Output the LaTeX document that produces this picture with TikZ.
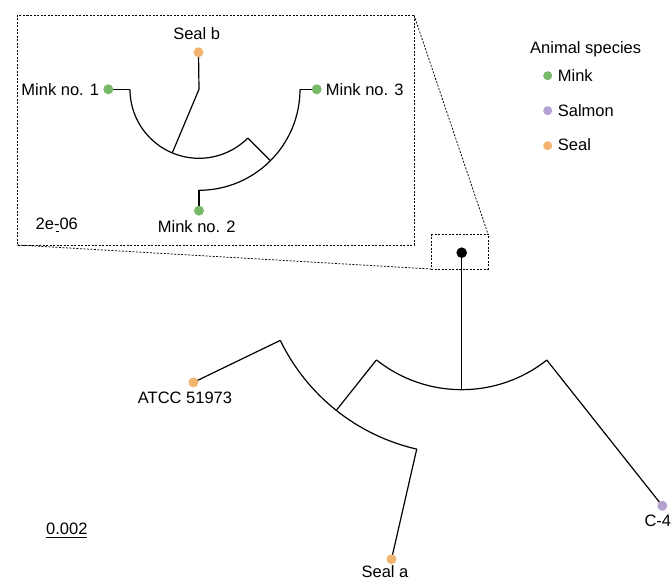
\documentclass[tikz,border=0pt]{standalone}
\usepackage{fontspec}
\setmainfont{Liberation Sans}
\definecolor{minkc}{HTML}{78B96A}
\definecolor{salmonc}{HTML}{B4A2D2}
\definecolor{sealc}{HTML}{F2B470}
\begin{document}
\begin{tikzpicture}[x=1pt,y=1pt,
  branch/.style={line width=1.2pt, black},
  zoomline/.style={line width=0.75pt, dash pattern=on 2pt off 1.5pt},
  leaf/.style={circle, inner sep=0pt, minimum size=10pt},
  legdot/.style={circle, inner sep=0pt, minimum size=9pt},
  lbl/.style={font=\fontsize{16.5}{20}\selectfont, inner sep=0pt}]
\useasboundingbox (0,0) rectangle (672,581);

% ---------- main tree ----------
\coordinate (R) at (461.7,328.3);
\path (R) ++(270:137) coordinate (n1)
      (R) ++(231.5:137) coordinate (aL)
      (R) ++(308.4:137) coordinate (aR)
      (R) ++(231.5:201.5) coordinate (n2)
      (R) ++(205.8:201.5) coordinate (bU)
      (R) ++(257.1:201.5) coordinate (bD)
      (R) ++(205.8:298) coordinate (atcc)
      (R) ++(257.1:314.5) coordinate (seala)
      (R) ++(308.4:323) coordinate (cfour);
\draw[branch] (R) -- (n1);
\draw[branch] (aL) arc[start angle=231.5, end angle=308.4, radius=137];
\draw[branch] (aL) -- (n2);
\draw[branch] (bU) arc[start angle=205.8, end angle=257.1, radius=201.5];
\draw[branch] (bU) -- (atcc);
\draw[branch] (bD) -- (seala);
\draw[branch] (aR) -- (cfour);
\node[leaf, fill=black, minimum size=10.6pt] (rootdot) at (R) {};
\node[leaf, fill=sealc] (atccdot) at (atcc) {};
\node[leaf, fill=sealc] (sealadot) at (seala) {};
\node[leaf, fill=salmonc] (cfourdot) at (cfour) {};
\node[lbl, anchor=base] (atcclbl) at (185,177.7) {ATCC 51973};
\node[lbl, anchor=base] (sealalbl) at (385,3) {Seal a};
\node[lbl, anchor=base] (cfourlbl) at (657.8,54.3) {C-4};

% scale bar
\node[lbl, anchor=base west] (scl) at (46,46.7) {0.002};
\coordinate (sbA) at (46,44);
\coordinate (sbB) at (87,44);
\draw[line width=0.9pt] (sbA) -- (sbB);

% ---------- inset ----------
\coordinate (C) at (199,491.7);
\path (C) ++(180:69) coordinate (iL)
      (C) ++(180:90.7) coordinate (mone)
      (C) ++(247.2:69) coordinate (isb)
      (C) ++(315:69) coordinate (ikA)
      (C) ++(315:101) coordinate (ikB)
      (C) ++(270:101) coordinate (iB)
      (C) ++(270:121.4) coordinate (mtwo)
      (C) ++(0:101) coordinate (iR)
      (C) ++(0:117.7) coordinate (mthree);
\coordinate (sb) at (198.5,528.7);
\draw[branch] (iL) arc[start angle=180, end angle=315, radius=69];
\draw[branch] (iB) arc[start angle=270, end angle=360, radius=101];
\draw[branch] (iL) -- (mone);
\draw[branch] (isb) -- (C) -- (sb);
\draw[branch] (ikA) -- (ikB);
\draw[branch] (iB) -- (mtwo);
\draw[branch] (iR) -- (mthree);
\node[leaf, fill=minkc] (monedot) at (mone) {};
\node[leaf, fill=minkc] (mtwodot) at (mtwo) {};
\node[leaf, fill=minkc] (mthreedot) at (mthree) {};
\node[leaf, fill=sealc] (sbdot) at (sb) {};
\node[lbl, anchor=base east] (monelbl) at (99.3,485.8) {Mink no. 1};
\node[lbl, anchor=base west] (mthreelbl) at (325.7,485.8) {Mink no. 3};
\node[lbl, anchor=base] (mtwolbl) at (196.7,348.4) {Mink no. 2};
\node[lbl, anchor=base] (sblbl) at (196.7,541) {Seal b};
\node[lbl, anchor=base west] (iscl) at (35.5,351.5) {2e-06};
\coordinate (isbA) at (55.5,349.5);
\coordinate (isbB) at (58.5,349.5);
\draw[line width=0.9pt] (isbA) -- (isbB);

% ---------- zoom frames ----------
\coordinate (ftl) at (17,566);
\coordinate (fbr) at (414,336);
\coordinate (ftr) at (414,566);
\coordinate (fbl) at (17,336);
\coordinate (stl) at (431,347);
\coordinate (sbr) at (488,312);
\coordinate (str) at (488,347);
\coordinate (sbl) at (431,312);
\draw[zoomline] (ftl) rectangle (fbr);
\draw[zoomline] (stl) rectangle (sbr);
\draw[zoomline] (ftr) -- (str);
\draw[zoomline] (fbl) -- (sbl);

% ---------- legend ----------
\node[lbl, anchor=base west] (legtitle) at (530,527.7) {Animal species};
\node[legdot, fill=minkc] (lgmink) at (547.7,505.3) {};
\node[legdot, fill=salmonc] (lgsalmon) at (547.7,470.3) {};
\node[legdot, fill=sealc] (lgseal) at (547.7,435.3) {};
\node[lbl, anchor=base west] (lgminkt) at (557.7,499) {Mink};
\node[lbl, anchor=base west] (lgsalmont) at (557.7,464.3) {Salmon};
\node[lbl, anchor=base west] (lgsealt) at (557.7,430.3) {Seal};
\end{tikzpicture}
\end{document}
